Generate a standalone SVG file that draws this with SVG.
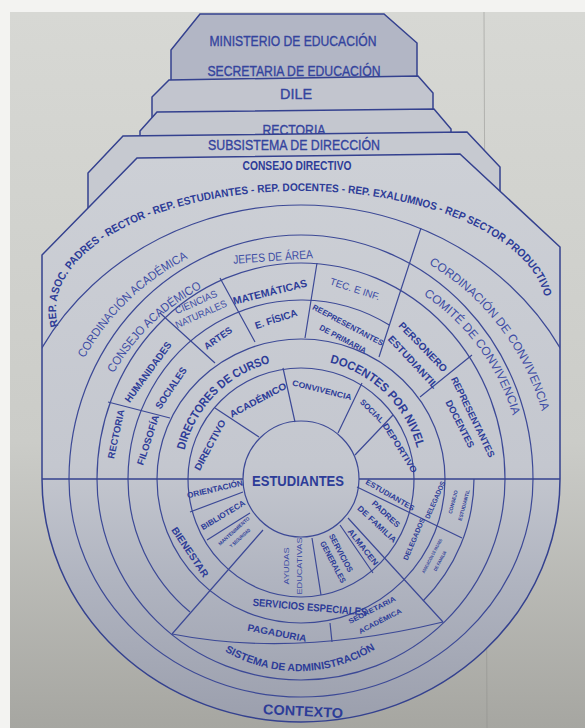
<svg xmlns="http://www.w3.org/2000/svg" width="585" height="728" viewBox="0 0 585 728">
<defs>
<linearGradient id="page" x1="0" y1="0" x2="0" y2="1">
<stop offset="0" stop-color="#d7d8d4"/><stop offset="0.6" stop-color="#cbccc8"/><stop offset="1" stop-color="#a6a6a1"/>
</linearGradient>
<linearGradient id="shape" x1="0" y1="0" x2="0" y2="1">
<stop offset="0" stop-color="#cdd0d6"/><stop offset="0.55" stop-color="#c4c7cf"/><stop offset="0.75" stop-color="#b0b4c0"/><stop offset="1" stop-color="#9b9fad"/>
</linearGradient>
<radialGradient id="core" cx="0.55" cy="0.4" r="0.7">
<stop offset="0" stop-color="#c9c9cf"/><stop offset="1" stop-color="#a9aab3"/>
</radialGradient>
<clipPath id="bigclip"><path d="M42,479 V255 L137,158 L460,154 L560,247 V479 A259,243 0 0 1 42,479 Z"/></clipPath>
<path id="pRep" d="M59.5,330 A245,119 0 1 1 542.5,330"/>
<path id="pCordA" d="M82,362.6 A248,248 0 0 1 192.3,256.1"/>
<path id="pConsA" d="M113,374.8 A215,215 0 0 1 203.4,287.4"/>
<path id="pCordC" d="M426,262.5 A250,250 0 0 1 542.5,414.3"/>
<path id="pComite" d="M421.4,293.7 A221,221 0 0 1 513.4,418.1"/>
<path id="pDirCur" d="M184.1,452 A120,120 0 0 1 272,362.6"/>
<path id="pDocNiv" d="M328,362.1 A120,120 0 0 1 417.4,450"/>
<path id="pSist" d="M226,652 A146,146 0 0 0 374,650"/>
</defs>
<style>
.ln{fill:none;stroke:#3c4996;stroke-width:1.2}
.ol{stroke:#34418f;stroke-width:1.5}
.tb{font-family:"Liberation Sans",Arial,sans-serif;font-weight:bold;fill:#2d3c98}
.tn{font-family:"Liberation Sans",Arial,sans-serif;fill:#3e4da5}
.th{font-family:"Liberation Sans",Arial,sans-serif;fill:#34449e;stroke:#34449e;stroke-width:0.35}
</style>
<rect x="0" y="0" width="585" height="728" fill="#f3f3f1"/>
<rect x="10" y="12" width="575" height="716" fill="url(#page)"/>
<line x1="484" y1="12" x2="487" y2="728" stroke="#8f8f8c" stroke-width="1" opacity="0.5"/>

<g id="tab-ministerio">
<path d="M171,92 V50 L200,14 L384,14 L417,43 V92 Z" fill="#b2b6c5" class="ol"/>
<text class="th" x="293" y="46" font-size="14" text-anchor="middle" textLength="167" lengthAdjust="spacingAndGlyphs">MINISTERIO DE EDUCACIÓN</text>
<text class="th" x="294" y="76" font-size="14" text-anchor="middle" textLength="173" lengthAdjust="spacingAndGlyphs">SECRETARIA DE EDUCACIÓN</text>
</g>
<g id="tab-dile">
<path d="M152,125 V97 L169,80 L418,76 L433,93 V125 Z" fill="#c2c5ce" class="ol"/>
<text class="th" x="296" y="98.5" font-size="14" text-anchor="middle" textLength="32" lengthAdjust="spacingAndGlyphs">DILE</text>
</g>
<g id="tab-rectoria">
<path d="M140,160 V131 L157,112 L434,109 L451,129 V160 Z" fill="#c4c7cf" class="ol"/>
<text class="th" x="294" y="135" font-size="14.5" text-anchor="middle" textLength="63" lengthAdjust="spacingAndGlyphs">RECTORIA</text>
</g>
<g id="tab-subsistema">
<path d="M88,215 V173 L123,136 L467,132 L500,167 V215 Z" fill="#c6c9d0" class="ol"/>
<text class="th" x="294" y="150" font-size="14" text-anchor="middle" textLength="172" lengthAdjust="spacingAndGlyphs">SUBSISTEMA DE DIRECCIÓN</text>
</g>

<g id="consejo-directivo">
<path d="M42,479 V255 L137,158 L460,154 L560,247 V479 A259,243 0 0 1 42,479 Z" fill="url(#shape)" class="ol"/>
<text class="tb" x="297" y="170" font-size="12" text-anchor="middle" textLength="109" lengthAdjust="spacingAndGlyphs">CONSEJO DIRECTIVO</text>
<text class="tb" font-size="11"><textPath href="#pRep" startOffset="4" textLength="592" lengthAdjust="spacingAndGlyphs">REP. ASOC. PADRES - RECTOR - REP. ESTUDIANTES - REP. DOCENTES - REP. EXALUMNOS  - REP SECTOR PRODUCTIVO</textPath></text>
</g>

<g id="connectors">
<path class="ln" clip-path="url(#bigclip)" d="M6,479 A295,274 0 0 1 596,479"/>
<path class="ln" d="M69,479 A232,244 0 0 1 533,479"/>
<path class="ln" d="M97,479 A204,216 0 0 1 505,479"/>
<path class="ln" d="M128,479 A173,179 0 0 1 389.7,325.3"/>
<path class="ln" d="M157,479 A144,140 0 0 1 445,479"/>
<path class="ln" d="M188,479 A113,111 0 0 1 414,479"/>
<path class="ln" d="M69,479 A232,218 0 0 0 533,479"/>
<path class="ln" d="M97,479 A204,201 0 0 0 505,479"/>
<path class="ln" d="M128,479 A173,173 0 0 0 190,612"/>
<path class="ln" d="M474,479 A173,173 0 0 1 423,601"/>
<path class="ln" d="M157,479 A144,144 0 0 0 445,479"/>
<path class="ln" d="M188,479 A113,118 0 0 0 414,479"/>
<path class="ln" d="M172,634 Q294.5,658 443,622"/>
<path class="ln ol" d="M42,479 H243 M359,479 H560"/>
<path class="ln" d="M421,228 L379,357 M420,397 L472,355 M317,263 L305,338 M220,278 L255,342 M160,313 L215,363 M108,402 L170,418"/>
<path class="ln" d="M215,408 L259,437 M283,368 L295,422 M362,383 L338,433 M393,415 L355,455"/>
<path class="ln" d="M190,512 L243,492 M207,540 L250,513 M263,530 L172,634 M312,538 L321,595 M340,525 L373,573 M348,518 L443,622 M357,487 L462,538 M330,623 L332,642"/>
</g>

<g id="core-estudiantes">
<circle cx="301" cy="479" r="58" fill="url(#core)" class="ln"/>
<text class="tb" x="298" y="485.5" font-size="15" text-anchor="middle" textLength="92" lengthAdjust="spacingAndGlyphs">ESTUDIANTES</text>
</g>

<g id="ring-labels">
<text class="tn" font-size="12"><textPath href="#pCordA" startOffset="50%" text-anchor="middle" textLength="146" lengthAdjust="spacingAndGlyphs">CORDINACIÓN ACADÉMICA</textPath></text>
<text class="tn" font-size="12"><textPath href="#pConsA" startOffset="50%" text-anchor="middle" textLength="124" lengthAdjust="spacingAndGlyphs">CONSEJO ACADÉMICO</textPath></text>
<text class="tn" font-size="12"><textPath href="#pCordC" startOffset="50%" text-anchor="middle" textLength="190" lengthAdjust="spacingAndGlyphs">CORDINACIÓN DE CONVIVENCIA</textPath></text>
<text class="tn" font-size="12"><textPath href="#pComite" startOffset="50%" text-anchor="middle" textLength="153" lengthAdjust="spacingAndGlyphs">COMITÉ DE CONVIVENCIA</textPath></text>
<text class="tb" font-size="12"><textPath href="#pDirCur" startOffset="50%" text-anchor="middle" textLength="128" lengthAdjust="spacingAndGlyphs">DIRECTORES DE CURSO</textPath></text>
<text class="tb" font-size="12"><textPath href="#pDocNiv" startOffset="50%" text-anchor="middle" textLength="128" lengthAdjust="spacingAndGlyphs">DOCENTES POR NIVEL</textPath></text>
<text class="tb" font-size="10.5"><textPath href="#pSist" startOffset="50%" text-anchor="middle" textLength="158" lengthAdjust="spacingAndGlyphs">SISTEMA DE ADMINISTRACIÓN</textPath></text>
<text class="tn" font-size="12" text-anchor="middle" transform="translate(273,257) rotate(-4)" y="4" textLength="80" lengthAdjust="spacingAndGlyphs">JEFES DE ÁREA</text>
</g>

<g id="cells-upper" text-anchor="middle">
<text class="tb" font-size="9.5" transform="translate(116,434) rotate(-78)" y="3.3" textLength="50" lengthAdjust="spacingAndGlyphs">RECTORIA</text>
<text class="tb" font-size="9.5" transform="translate(148,440) rotate(-72)" y="3.3" textLength="52" lengthAdjust="spacingAndGlyphs">FILOSOFÍA</text>
<text class="tb" font-size="10" transform="translate(148,372) rotate(-54)" y="3.5" textLength="72" lengthAdjust="spacingAndGlyphs">HUMANIDADES</text>
<text class="tb" font-size="10" transform="translate(171,388) rotate(-56)" y="3.5" textLength="48" lengthAdjust="spacingAndGlyphs">SOCIALES</text>
<text class="tn" font-size="10" transform="translate(196,302) rotate(-24)" y="3.5" textLength="45" lengthAdjust="spacingAndGlyphs">CIENCIAS</text>
<text class="tn" font-size="10" transform="translate(201,314) rotate(-24)" y="3.5" textLength="55" lengthAdjust="spacingAndGlyphs">NATURALES</text>
<text class="tb" font-size="10.5" transform="translate(270,292) rotate(-14)" y="3.7" textLength="76" lengthAdjust="spacingAndGlyphs">MATEMÁTICAS</text>
<text class="tb" font-size="9.5" transform="translate(218,338) rotate(-35)" y="3.3" textLength="32" lengthAdjust="spacingAndGlyphs">ARTES</text>
<text class="tb" font-size="10" transform="translate(276,319) rotate(-18)" y="3.5" textLength="44" lengthAdjust="spacingAndGlyphs">E. FÍSICA</text>
<text class="tn" font-size="10" transform="translate(355,289) rotate(18)" y="3.5" textLength="52" lengthAdjust="spacingAndGlyphs">TEC. E INF.</text>
<text class="tb" font-size="8" transform="translate(348,325) rotate(28)" y="2.8" textLength="79" lengthAdjust="spacingAndGlyphs">REEPRESENTANTES</text>
<text class="tb" font-size="8" transform="translate(343,339) rotate(28)" y="2.8" textLength="52" lengthAdjust="spacingAndGlyphs">DE PRIMARIA</text>
<text class="tb" font-size="10" transform="translate(423,347) rotate(46)" y="3.5" textLength="65" lengthAdjust="spacingAndGlyphs">PERSONERO</text>
<text class="tb" font-size="10" transform="translate(413,362) rotate(47)" y="3.5" textLength="68" lengthAdjust="spacingAndGlyphs">ESTUDIANTIL</text>
<text class="tb" font-size="9.5" transform="translate(473,417) rotate(64)" y="3.3" textLength="88" lengthAdjust="spacingAndGlyphs">REPRESENTANTES</text>
<text class="tb" font-size="9.5" transform="translate(460,424) rotate(63)" y="3.3" textLength="52" lengthAdjust="spacingAndGlyphs">DOCENTES</text>
<text class="tb" font-size="9.5" transform="translate(210,445) rotate(-62)" y="3.3" textLength="56" lengthAdjust="spacingAndGlyphs">DIRECTIVO</text>
<text class="tb" font-size="9.5" transform="translate(258,400) rotate(-28)" y="3.3" textLength="63" lengthAdjust="spacingAndGlyphs">ACADÉMICO</text>
<text class="tb" font-size="8" transform="translate(322,390) rotate(14)" y="2.8" textLength="61" lengthAdjust="spacingAndGlyphs">CONVIVENCIA</text>
<text class="tb" font-size="8" transform="translate(372,411) rotate(45)" y="2.8" textLength="30" lengthAdjust="spacingAndGlyphs">SOCIAL</text>
<text class="tb" font-size="8.5" transform="translate(400,448) rotate(58)" y="3" textLength="57" lengthAdjust="spacingAndGlyphs">DEPORTIVO</text>
</g>

<g id="cells-lower" text-anchor="middle">
<text class="tb" font-size="8" transform="translate(215,489) rotate(-13)" y="2.8" textLength="57" lengthAdjust="spacingAndGlyphs">ORIENTACIÓN</text>
<text class="tb" font-size="8" transform="translate(223,515) rotate(-31)" y="2.8" textLength="50" lengthAdjust="spacingAndGlyphs">BIBLIOTECA</text>
<text class="tb" font-size="5" transform="translate(234,531) rotate(-42)" y="1.8" textLength="40" lengthAdjust="spacingAndGlyphs">MANTENIMIENTO</text>
<text class="tb" font-size="5" transform="translate(240,538) rotate(-42)" y="1.8" textLength="26" lengthAdjust="spacingAndGlyphs">Y SEGURIDAD</text>
<text class="tn" font-size="8" transform="translate(286,566) rotate(-90)" y="2.8" textLength="37" lengthAdjust="spacingAndGlyphs">AYUDAS</text>
<text class="tn" font-size="8" transform="translate(299,566) rotate(-90)" y="2.8" textLength="57" lengthAdjust="spacingAndGlyphs">EDUCATIVAS</text>
<text class="tb" font-size="8" transform="translate(341,553) rotate(62)" y="2.8" textLength="42" lengthAdjust="spacingAndGlyphs">SERVICIOS</text>
<text class="tb" font-size="8" transform="translate(333,562) rotate(62)" y="2.8" textLength="46" lengthAdjust="spacingAndGlyphs">GENERALES</text>
<text class="tb" font-size="8" transform="translate(363,547) rotate(52)" y="2.8" textLength="44" lengthAdjust="spacingAndGlyphs">ALMACEN</text>
<text class="tb" font-size="8" transform="translate(386,514) rotate(43)" y="2.8" textLength="35" lengthAdjust="spacingAndGlyphs">PADRES</text>
<text class="tb" font-size="8" transform="translate(377,524) rotate(43)" y="2.8" textLength="50" lengthAdjust="spacingAndGlyphs">DE FAMILIA</text>
<text class="tb" font-size="7.5" transform="translate(390,495) rotate(30)" y="2.6" textLength="55" lengthAdjust="spacingAndGlyphs">ESTUDIANTES</text>
<text class="tb" font-size="7" transform="translate(435,500) rotate(-66)" y="2.5" textLength="40" lengthAdjust="spacingAndGlyphs">DELEGADOS</text>
<text class="tb" font-size="7" transform="translate(414,539) rotate(-67)" y="2.5" textLength="45" lengthAdjust="spacingAndGlyphs">DELEGADOS</text>
<text class="tb" font-size="5" transform="translate(453,502) rotate(-75)" y="1.8" textLength="24" lengthAdjust="spacingAndGlyphs">CONSEJO</text>
<text class="tb" font-size="5" transform="translate(464,505) rotate(-75)" y="1.8" textLength="32" lengthAdjust="spacingAndGlyphs">ESTUDIANTIL</text>
<text class="tb" font-size="4.5" transform="translate(432,556) rotate(-62)" y="1.6" textLength="38" lengthAdjust="spacingAndGlyphs">ASOCIACIÓN DE PADRES</text>
<text class="tb" font-size="4.5" transform="translate(440,561) rotate(-62)" y="1.6" textLength="22" lengthAdjust="spacingAndGlyphs">DE FAMILIA</text>
<text class="tb" font-size="10" transform="translate(190,552) rotate(56)" y="3.5" textLength="58" lengthAdjust="spacingAndGlyphs">BIENESTAR</text>
<text class="tb" font-size="10.5" transform="translate(310,607) rotate(5)" y="3.7" textLength="115" lengthAdjust="spacingAndGlyphs">SERVICIOS ESPECIALES</text>
<text class="tb" font-size="9.5" transform="translate(277,633) rotate(11)" y="3.3" textLength="60" lengthAdjust="spacingAndGlyphs">PAGADURIA</text>
<text class="tb" font-size="7" transform="translate(372,610) rotate(-27)" y="2.5" textLength="52" lengthAdjust="spacingAndGlyphs">SECRETARIA</text>
<text class="tb" font-size="7" transform="translate(380,621) rotate(-27)" y="2.5" textLength="47" lengthAdjust="spacingAndGlyphs">ACADÉMICA</text>
<text class="tb" font-size="14" transform="translate(303,711) rotate(3)" y="5" textLength="80" lengthAdjust="spacingAndGlyphs">CONTEXTO</text>
</g>
</svg>
